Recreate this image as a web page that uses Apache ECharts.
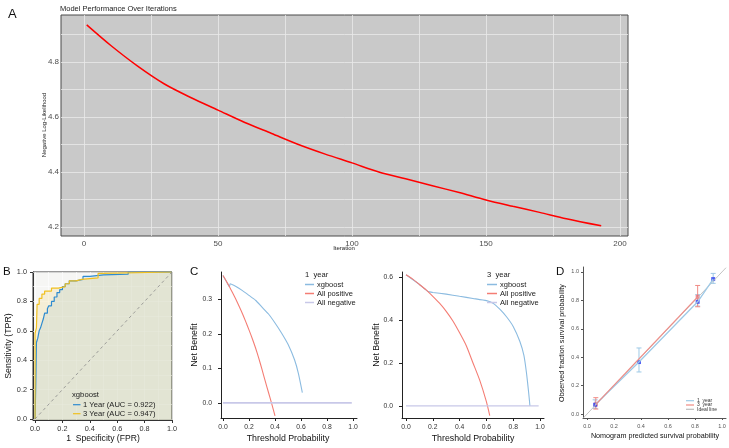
<!DOCTYPE html>
<html><head><meta charset="utf-8">
<script src="https://cdn.jsdelivr.net/npm/echarts@6.0.0/dist/echarts.min.js"></script>
<style>html,body{margin:0;padding:0;background:#fff;}#main{width:729px;height:448px;}</style>
</head><body><div id="main"></div>
<script>
// ===== Panel A: model performance over iterations =====
const iterations = [1,10,20,30,40,50,60,70,80,90,100,110,120,130,140,150,160,170,180,193];
const negLogLik  = [4.935,4.86,4.785,4.72,4.67,4.625,4.58,4.54,4.50,4.465,4.433,4.40,4.375,4.35,4.325,4.298,4.275,4.253,4.23,4.204];
const iterTickLabels = [0,50,100,150,200];
const iterGridLines  = [0,25,50,75,100,125,150,175,200];
const nllTickLabels  = [4.2,4.4,4.6,4.8];
const nllGridLines   = [4.2,4.3,4.4,4.5,4.6,4.7,4.8,4.9];

// ===== Panel B: ROC =====
const rocFpr1Year = [0,0.005,0.01,0.01,0.02,0.02,0.03,0.03,0.04,0.04,0.05,0.05,0.06,0.06,0.07,0.07,0.09,0.09,0.10,0.10,0.12,0.12,0.14,0.14,0.16,0.16,0.18,0.18,0.20,0.20,0.22,0.22,0.25,0.25,0.30,0.30,0.35,0.35,0.40,0.40,0.50,0.50,0.68,0.68,1.0];
const rocTpr1Year = [0,0.23,0.23,0.52,0.52,0.55,0.55,0.60,0.60,0.62,0.62,0.65,0.65,0.68,0.68,0.72,0.72,0.75,0.75,0.77,0.77,0.80,0.80,0.83,0.83,0.86,0.86,0.88,0.88,0.90,0.90,0.92,0.92,0.94,0.94,0.95,0.95,0.97,0.97,0.98,0.98,0.985,0.985,1.0,1.0];
const rocFpr3Year = [0,0,0.01,0.01,0.015,0.015,0.03,0.03,0.05,0.05,0.07,0.07,0.12,0.12,0.17,0.17,0.22,0.22,0.25,0.25,0.30,0.30,0.34,0.34,0.46,0.46,0.48,0.48,1.0];
const rocTpr3Year = [0,0.58,0.58,0.62,0.62,0.78,0.78,0.82,0.82,0.85,0.85,0.87,0.87,0.89,0.89,0.90,0.90,0.92,0.92,0.94,0.94,0.95,0.95,0.96,0.96,0.99,0.99,1.0,1.0];
const rocDiagonal = [0,1];
const unitTickLabels = [0,0.2,0.4,0.6,0.8,1.0];
const rocGridLines = [0,0.1,0.2,0.3,0.4,0.5,0.6,0.7,0.8,0.9,1.0];
const rocLegend = ['1 Year (AUC = 0.922)','3 Year (AUC = 0.947)'];

// ===== Panel C: decision curves =====
const dcaThr1Model = [0,0.03,0.05,0.055,0.1,0.15,0.2,0.25,0.3,0.35,0.4,0.45,0.5,0.55,0.58,0.61];
const dcaNb1Model  = [0.37,0.35,0.337,0.346,0.338,0.326,0.312,0.298,0.278,0.258,0.232,0.203,0.17,0.125,0.085,0.03];
const dcaThr1All   = [0,0.025,0.05,0.075,0.1,0.125,0.15,0.175,0.2,0.225,0.25,0.275,0.3,0.325,0.35,0.375,0.4];
const dcaNb1All    = [0.37,0.354,0.337,0.319,0.30,0.28,0.259,0.236,0.212,0.187,0.16,0.13,0.097,0.063,0.03,-0.003,-0.038];
const dcaThr3Model = [0,0.1,0.165,0.2,0.3,0.4,0.5,0.6,0.65,0.7,0.75,0.8,0.85,0.88,0.9,0.915,0.925];
const dcaNb3Model  = [0.61,0.565,0.532,0.528,0.52,0.51,0.5,0.49,0.478,0.45,0.415,0.37,0.3,0.235,0.15,0.065,0.0];
const dcaThr3All   = [0,0.05,0.1,0.15,0.2,0.25,0.3,0.35,0.4,0.45,0.5,0.55,0.6,0.625];
const dcaNb3All    = [0.61,0.59,0.565,0.54,0.51,0.478,0.44,0.395,0.34,0.28,0.2,0.12,0.02,-0.045];
const dcaThrNone   = [0,0.99];
const dcaNbNone    = [0,0];
const nb1TickLabels = [0,0.1,0.2,0.3];
const nb3TickLabels = [0,0.2,0.4,0.6];
const dcaLegend = ['xgboost','All positive','All negative'];

// ===== Panel D: calibration =====
const cal1Pred = [0.06,0.385,0.82,0.935];
const cal1Obs  = [0.065,0.366,0.79,0.95];
const cal1Lo   = [0.04,0.296,0.76,0.92];
const cal1Hi   = [0.10,0.465,0.84,0.99];
const cal3Pred = [0.065,0.82];
const cal3Obs  = [0.068,0.825];
const cal3Lo   = [0.035,0.755];
const cal3Hi   = [0.115,0.905];
const idealLine = [-0.03,1.03];
const calLegend = ['1  year','3  year','Ideal line'];

const F = "'Liberation Sans', Arial, sans-serif";
const zip = (a,b)=>a.map((v,i)=>[v,b[i]]);
const fmt1 = v => Number(v).toFixed(1);

const C_BLUE='#2e8bd0', C_YEL='#f0c020';
const C_DBLUE='#8bbbe0', C_DRED='#f47d74', C_NEG='#c8c8e8';
const C_CBLUE='#9ec9e6', C_CRED='#f08a84';

const grids = [
  {left:61, top:15, width:567, height:221, show:true, backgroundColor:'#c9c9c9', borderColor:'#4a4a4a', borderWidth:1},
  {left:33, top:272, width:139, height:148, show:true, backgroundColor:'#f6f6f4', borderColor:'#333', borderWidth:1},
  {left:221, top:272, width:136, height:146},
  {left:402, top:272, width:142, height:146},
  {left:583, top:267, width:143, height:151}
];

function mkAxis(dim, gi, min, max, labels, o){
  o = o||{};
  return {
    type:'value', gridIndex:gi, min:min, max:max, position:o.position,
    z: o.z||0,
    axisLine:{show:o.line!==false, onZero:false, lineStyle:{color:o.lineColor||'#222', width:1}},
    axisTick:{show:o.tick!==false, length:o.tickLen||3, customValues:o.tickValues||labels, lineStyle:{color:o.lineColor||'#222'}},
    axisLabel:{show:o.label!==false, customValues:labels, formatter:o.formatter||fmt1, color:o.labelColor||'#333', fontSize:o.fontSize||7, fontFamily:F, margin:o.margin||5},
    splitLine:{show:!!o.split, lineStyle:o.splitStyle||{color:'#fff',width:0.8}}
  };
}

const xAxes = [
  mkAxis('x',0,-8.6,203,iterTickLabels,{line:false,tick:false,tickValues:iterGridLines,split:true,splitStyle:{color:'#eaeaea',width:0.8},formatter:v=>String(v),labelColor:'#4d4d4d',fontSize:8,margin:4}),
  mkAxis('x',1,-0.015,1.0,unitTickLabels,{lineColor:'#333',fontSize:7.3,margin:5,position:'bottom'}),
  mkAxis('x',1,-0.015,1.0,rocGridLines,{line:false,tick:false,label:false,split:true,z:3,splitStyle:{color:'#ffffff',width:0.8,opacity:0.75},position:'top'}),
  mkAxis('x',2,-0.015,1.03,unitTickLabels,{fontSize:6.8,margin:6}),
  mkAxis('x',3,-0.03,1.03,unitTickLabels,{fontSize:6.8,margin:6}),
  mkAxis('x',4,-0.03,1.03,unitTickLabels,{lineColor:'#555',fontSize:5.5,labelColor:'#555',tickLen:2,margin:5})
];
const yAxes = [
  mkAxis('y',0,4.167,4.971,nllTickLabels,{line:false,tick:false,tickValues:nllGridLines,split:true,splitStyle:{color:'#eaeaea',width:0.8},labelColor:'#4d4d4d',fontSize:8,margin:2}),
  mkAxis('y',1,-0.007,1.0,unitTickLabels,{lineColor:'#333',fontSize:7.3,margin:6,position:'left'}),
  mkAxis('y',1,-0.007,1.0,rocGridLines,{line:false,tick:false,label:false,split:true,z:3,splitStyle:{color:'#ffffff',width:0.8,opacity:0.75},position:'right'}),
  mkAxis('y',2,-0.044,0.38,nb1TickLabels,{fontSize:6.8,margin:9}),
  mkAxis('y',3,-0.056,0.623,nb3TickLabels,{fontSize:6.8,margin:9}),
  mkAxis('y',4,-0.028,1.035,unitTickLabels,{lineColor:'#555',fontSize:5.5,labelColor:'#555',tickLen:2,margin:4})
];

function lineS(xi, yi, data, color, width, extra){
  return Object.assign({type:'line', xAxisIndex:xi, yAxisIndex:yi, data:data, showSymbol:false, symbol:'none',
    lineStyle:{color:color, width:width}, itemStyle:{color:color}, silent:true, animation:false, clip:true}, extra||{});
}

function errBars(xi, yi, xs, lo, hi, color){
  return {type:'custom', xAxisIndex:xi, yAxisIndex:yi, silent:true, animation:false,
    data: xs.map((x,i)=>[x,lo[i],hi[i]]),
    renderItem:(p,api)=>{
      const x=api.value(0); const a=api.coord([x,api.value(1)]); const b=api.coord([x,api.value(2)]); const w=2.5;
      const st={stroke:color,lineWidth:1};
      return {type:'group',children:[
        {type:'line',shape:{x1:a[0],y1:a[1],x2:b[0],y2:b[1]},style:st},
        {type:'line',shape:{x1:a[0]-w,y1:a[1],x2:a[0]+w,y2:a[1]},style:st},
        {type:'line',shape:{x1:b[0]-w,y1:b[1],x2:b[0]+w,y2:b[1]},style:st}
      ]};
    }};
}

const series = [
  lineS(0,0,zip(iterations,negLogLik),'#ff0000',1.5,{smooth:0.3}),
  lineS(1,1,zip(rocFpr1Year,rocTpr1Year),C_BLUE,1.2,{areaStyle:{color:C_BLUE,opacity:0.11,origin:'start'}}),
  lineS(1,1,zip(rocFpr3Year,rocTpr3Year),C_YEL,1.2,{areaStyle:{color:C_YEL,opacity:0.14,origin:'start'}}),
  lineS(1,1,zip(rocDiagonal,rocDiagonal),'#8a8a8a',0.8,{lineStyle:{color:'#8a8a8a',width:0.8,type:[3,3]}}),
  lineS(3,3,zip(dcaThr1Model,dcaNb1Model),C_DBLUE,1.1,{smooth:0.15}),
  lineS(3,3,zip(dcaThr1All,dcaNb1All),C_DRED,1.1,{smooth:0.2}),
  lineS(3,3,zip(dcaThrNone,dcaNbNone),C_NEG,1.8),
  lineS(4,4,zip(dcaThr3Model,dcaNb3Model),C_DBLUE,1.1,{smooth:0.15}),
  lineS(4,4,zip(dcaThr3All,dcaNb3All),C_DRED,1.1,{smooth:0.2}),
  lineS(4,4,zip(dcaThrNone,dcaNbNone),C_NEG,1.2),
  lineS(5,5,zip(idealLine,idealLine),'#bdbdbd',0.9),
  lineS(5,5,zip(cal1Pred,cal1Obs),C_CBLUE,1.3),
  lineS(5,5,zip(cal3Pred,cal3Obs),C_CRED,1.1),
  errBars(5,5,cal1Pred,cal1Lo,cal1Hi,C_CBLUE),
  errBars(5,5,cal3Pred,cal3Lo,cal3Hi,C_CRED),
  {type:'scatter',xAxisIndex:5,yAxisIndex:5,data:zip(cal3Pred,cal3Obs),symbol:'rect',symbolSize:4,itemStyle:{color:'#e8707a'},silent:true,animation:false},
  {type:'scatter',xAxisIndex:5,yAxisIndex:5,data:zip(cal1Pred,cal1Obs),symbol:'rect',symbolSize:4,itemStyle:{color:'#2a3cf0'},silent:true,animation:false}
];

function txt(x,y,s,size,o){
  o=o||{};
  return {type:'text', x:x, y:y, rotation:o.rot||0, silent:true, z:10,
    style:{text:s, fill:o.color||'#111', font:(o.weight||'normal')+' '+size+'px '+F, textAlign:o.align||'left', textVerticalAlign:o.va||'middle'}};
}
function seg(x1,y1,x2,y2,color,w){
  return {type:'line', silent:true, z:10, shape:{x1:x1,y1:y1,x2:x2,y2:y2}, style:{stroke:color,lineWidth:w||1.2}};
}

const graphics = [
  txt(8,14,'A',13),
  txt(60,9,'Model Performance Over Iterations',7.5,{color:'#222'}),
  txt(44.5,125,'Negative Log-Likelihood',6,{rot:Math.PI/2,align:'center',color:'#222'}),
  txt(344,248,'Iteration',6,{align:'center',color:'#222'}),
  // B
  txt(3,272,'B',11.5),
  txt(9,346,'Sensitivity (TPR)',8.8,{rot:Math.PI/2,align:'center'}),
  txt(103,439,'1  Specificity (FPR)',8.6,{align:'center'}),
  txt(72,395,'xgboost',7.7,{color:'#222'}),
  seg(73,404.7,80.5,404.7,C_BLUE,1.2), txt(83,404.7,rocLegend[0],7.6,{color:'#222'}),
  seg(73,413.7,80.5,413.7,C_YEL,1.2), txt(83,413.7,rocLegend[1],7.6,{color:'#222'}),
  // C
  txt(190,272,'C',11.5),
  txt(195,345,'Net Benefit',8.8,{rot:Math.PI/2,align:'center'}),
  txt(288,439,'Threshold Probability',8.8,{align:'center'}),
  txt(305,275,'1  year',7.6,{color:'#222'}),
  seg(305,284.5,314,284.5,C_DBLUE,1.5), txt(317,284.5,dcaLegend[0],7.5,{color:'#222'}),
  seg(305,293.5,314,293.5,C_DRED,1.5), txt(317,293.5,dcaLegend[1],7.5,{color:'#222'}),
  seg(305,302.5,314,302.5,C_NEG,1.5), txt(317,302.5,dcaLegend[2],7.5,{color:'#222'}),
  txt(377,345,'Net Benefit',8.8,{rot:Math.PI/2,align:'center'}),
  txt(473,439,'Threshold Probability',8.8,{align:'center'}),
  txt(487,275,'3  year',7.6,{color:'#222'}),
  seg(487,284.5,497,284.5,C_DBLUE,1.5), txt(500,284.5,dcaLegend[0],7.5,{color:'#222'}),
  seg(487,293.5,497,293.5,C_DRED,1.5), txt(500,293.5,dcaLegend[1],7.5,{color:'#222'}),
  seg(487,302.5,497,302.5,C_NEG,1.5), txt(500,302.5,dcaLegend[2],7.5,{color:'#222'}),
  // D
  txt(556,272,'D',11.5),
  txt(562,343,'Observed fraction survival probability',7.2,{rot:Math.PI/2,align:'center'}),
  txt(655,436,'Nomogram predicted survival probability',7.2,{align:'center'}),
  seg(686,400.7,694,400.7,C_CBLUE,1.2), txt(697,400.7,calLegend[0],5,{color:'#333'}),
  seg(686,405,694,405,C_CRED,1.2), txt(697,405,calLegend[1],5,{color:'#333'}),
  seg(686,409.3,694,409.3,'#bdbdbd',1.2), txt(697,409.3,calLegend[2],5,{color:'#333'})
];

const chart = echarts.init(document.getElementById('main'), null, {renderer:'canvas', width:729, height:448});
chart.setOption({
  animation:false,
  backgroundColor:'#ffffff',
  grid: grids,
  xAxis: xAxes,
  yAxis: yAxes,
  series: series,
  graphic: graphics
});
</script>
</body></html>
